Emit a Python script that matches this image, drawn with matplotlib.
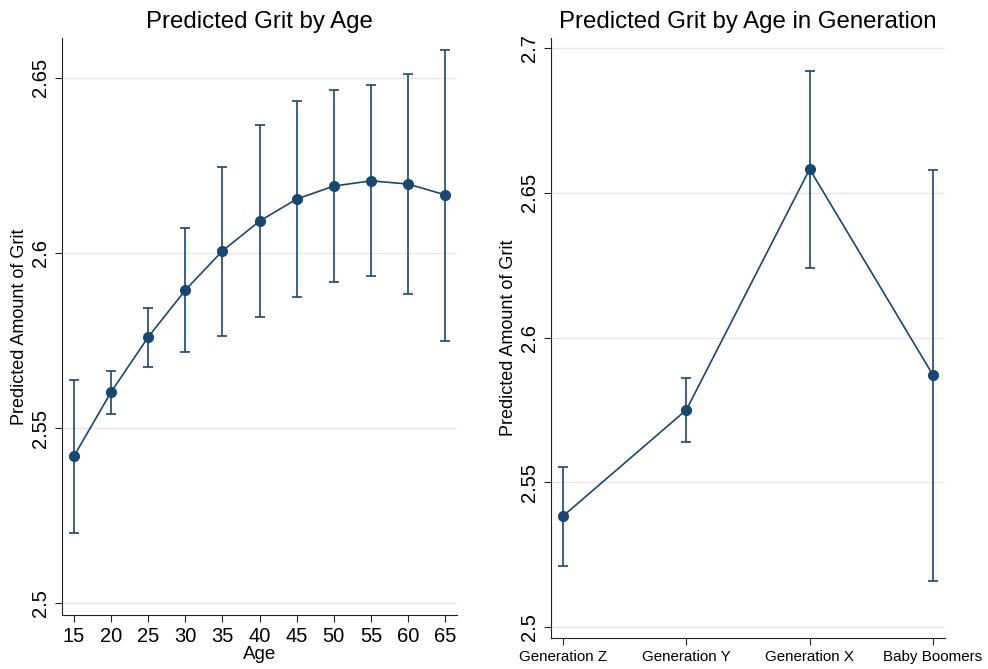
import matplotlib.pyplot as plt
import numpy as np

plt.rcParams['font.family'] = ['Liberation Sans', 'DejaVu Sans']

# left panel: predicted grit by age (margins with 95% CI)
ages = [15, 20, 25, 30, 35, 40, 45, 50, 55, 60, 65]
age_pred = [2.542, 2.5603, 2.576, 2.5894, 2.6006, 2.6091, 2.6154, 2.6191, 2.6206, 2.6197, 2.6166]
age_lo = [2.520, 2.554, 2.5674, 2.5717, 2.5763, 2.5817, 2.5874, 2.5917, 2.5934, 2.5883, 2.5749]
age_hi = [2.5637, 2.5663, 2.5843, 2.6071, 2.6246, 2.6366, 2.6434, 2.6466, 2.648, 2.6511, 2.658]

# right panel: by generation
gens = ['Generation Z', 'Generation Y', 'Generation X', 'Baby Boomers']
gen_pred = [2.5383, 2.575, 2.6582, 2.587]
gen_lo = [2.5211, 2.5639, 2.624, 2.5159]
gen_hi = [2.5553, 2.586, 2.692, 2.6579]

col = '#1a476f'
W, H = 988, 669
fig = plt.figure(figsize=(W/100, H/100), dpi=100)

def style(ax):
    for s in ['top', 'right']:
        ax.spines[s].set_visible(False)
    ax.spines['left'].set_color('#222222')
    ax.spines['bottom'].set_color('#222222')
    ax.grid(axis='y', color='#e6e6e6', linewidth=1)
    ax.set_axisbelow(True)
    ax.tick_params(length=5, color='#222222')

ax1 = fig.add_axes([62/W, (H-615)/H, 395/W, 577/H])
style(ax1)
a = np.array(age_pred)
ax1.errorbar(ages, age_pred, yerr=[a-np.array(age_lo), np.array(age_hi)-a],
             color=col, marker='o', markersize=7, linewidth=1.2,
             elinewidth=1.2, capsize=3.5, capthick=1.2)
ax1.set_xlim(13.38, 66.6)
ax1.set_ylim(2.4966, 2.6614)
ax1.set_xticks(ages)
ax1.set_yticks([2.5, 2.55, 2.6, 2.65])
ax1.set_yticklabels(['2.5', '2.55', '2.6', '2.65'], rotation=90, va='center')
ax1.tick_params(axis='both', labelsize=14.5)
ax1.set_xlabel('Age', fontsize=13.5, labelpad=0)
ax1.set_ylabel('Predicted Amount of Grit', fontsize=13, labelpad=2)
ax1.set_title('Predicted Grit by Age', fontsize=17.3, pad=7)

ax2 = fig.add_axes([551/W, (H-638)/H, 394/W, 600/H])
style(ax2)
xg = np.arange(len(gens))
g = np.array(gen_pred)
ax2.errorbar(xg, gen_pred, yerr=[g-np.array(gen_lo), np.array(gen_hi)-g],
             color=col, marker='o', markersize=7, linewidth=1.2,
             elinewidth=1.2, capsize=3.5, capthick=1.2)
ax2.set_xlim(-0.097, 3.097)
ax2.set_ylim(2.4962, 2.7035)
ax2.set_xticks(xg)
ax2.set_xticklabels(gens, fontsize=10.9)
ax2.set_yticks([2.5, 2.55, 2.6, 2.65, 2.7])
ax2.set_yticklabels(['2.5', '2.55', '2.6', '2.65', '2.7'], rotation=90, va='center')
ax2.tick_params(axis='y', labelsize=14.5)
ax2.set_ylabel('Predicted Amount of Grit', fontsize=13, labelpad=2)
ax2.set_title('Predicted Grit by Age in Generation', fontsize=17.3, pad=7)

fig.savefig('out.png', dpi=100)
